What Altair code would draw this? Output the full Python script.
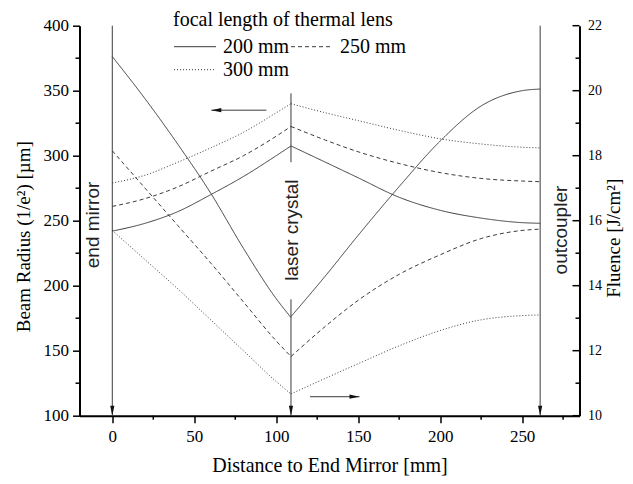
import altair as alt
import pandas as pd

# ---------------- data ----------------
series = ["200 mm", "250 mm", "300 mm"]

# positions along the resonator (mm)
x_left = [0, 20, 40, 60, 80, 100, 109]
x_right = [109, 130, 150, 175, 200, 225, 250, 261]

# beam radius (1/e^2) in micrometres, left axis
beam_200_left = [242, 248, 257, 270, 284, 300, 307.5]
beam_250_left = [261, 267, 276, 288, 300, 315, 322.5]
beam_300_left = [279, 285, 295, 306, 318, 333, 340]
beam_200_right = [307.5, 295, 283, 268, 258, 252, 248.5, 248]
beam_250_right = [322.5, 312, 303, 294, 287, 282.5, 280.5, 280]
beam_300_right = [340, 333, 327, 319.5, 313, 309, 306.5, 306]

# fluence in J/cm^2, right axis
flu_200_left = [21.05, 19.75, 18.35, 16.85, 15.15, 13.6, 13.02]
flu_250_left = [18.15, 17.0, 15.85, 14.7, 13.5, 12.3, 11.82]
flu_300_left = [15.7, 14.8, 13.9, 12.95, 12.0, 11.05, 10.67]
flu_200_right = [13.05, 14.3, 15.55, 17.05, 18.45, 19.53, 20.0, 20.05]
flu_250_right = [11.82, 12.75, 13.55, 14.35, 14.95, 15.45, 15.7, 15.74]
flu_300_right = [10.67, 11.15, 11.6, 12.15, 12.62, 12.95, 13.08, 13.1]

# optical elements (vertical markers): x, top, bottom (beam-radius units)
elem_x = [0, 109, 109, 261]
elem_top = [400, 348, 189.5, 400]
elem_bot = [100, 295, 100, 100]
arrow_tip_x = [0, 109, 261]

elem_labels = ["end mirror", "laser crystal", "outcoupler"]
elem_label_x = [-12, 109.8, 274]
elem_label_y = [246.7, 242.8, 242.8]

# direction arrows: (x start, x end, y in beam units)
arr_x1 = [94, 120.6]
arr_x2 = [60.4, 150.8]
arr_y = [335, 114.6]

# axis ticks
x_major = [0, 50, 100, 150, 200, 250]
x_minor = [25, 75, 125, 175, 225, 275]
yb_major = [100, 150, 200, 250, 300, 350, 400]
yb_minor = [125, 175, 225, 275, 325, 375]
yf_major = [10, 12, 14, 16, 18, 20, 22]
yf_minor = [11, 13, 15, 17, 19, 21]

# ---------------- tables ----------------
rows = []
for s, bl, br, fl, fr in zip(
    series,
    [beam_200_left, beam_250_left, beam_300_left],
    [beam_200_right, beam_250_right, beam_300_right],
    [flu_200_left, flu_250_left, flu_300_left],
    [flu_200_right, flu_250_right, flu_300_right],
):
    for x, v in zip(x_left, bl):
        rows.append(dict(x=x, v=v, series=s, seg="L", q="beam"))
    for x, v in zip(x_right, br):
        rows.append(dict(x=x, v=v, series=s, seg="R", q="beam"))
    for x, v in zip(x_left, fl):
        rows.append(dict(x=x, v=v, series=s, seg="L", q="flu"))
    for x, v in zip(x_right, fr):
        rows.append(dict(x=x, v=v, series=s, seg="R", q="flu"))
df = pd.DataFrame(rows)
beam_df = df[df.q == "beam"]
flu_df = df[df.q == "flu"]

elem_df = pd.DataFrame(dict(x=elem_x, v=elem_top, v2=elem_bot))
tip_df = pd.DataFrame(dict(x=arrow_tip_x, v=[100] * len(arrow_tip_x)))
lab_df = pd.DataFrame(dict(x=elem_label_x, v=elem_label_y, t=elem_labels))
arr_df = pd.DataFrame(dict(x=arr_x1, x2=arr_x2, v=arr_y))
arr_r_df = pd.DataFrame(dict(x=[arr_x2[1]], v=[arr_y[1]]))
arr_l_df = pd.DataFrame(dict(x=[arr_x2[0]], v=[arr_y[0]]))
xminor_df = pd.DataFrame(dict(x=x_minor))
ybminor_df = pd.DataFrame(dict(v=yb_minor))
yfmajor_df = pd.DataFrame(dict(v=yf_major))
yfminor_df = pd.DataFrame(dict(v=yf_minor))

# ---------------- scales & axes ----------------
SERIF = "Liberation Serif"
SANS = "Liberation Sans"
LINE = "#3a3a3a"
W, H = 500, 390

x_scale = alt.Scale(domain=[-20, 285], nice=False, zero=False)
yb_scale = alt.Scale(domain=[100, 400], nice=False, zero=False)
yf_scale = alt.Scale(domain=[10, 22], nice=False, zero=False)
dash_scale = alt.Scale(domain=series, range=[[1, 0], [4, 3], [1, 2]])

x_axis = alt.Axis(
    values=x_major, format="d", title="Distance to End Mirror [mm]",
    tickSize=7, labelPadding=6, labelFontSize=17,
    titleY=55.5, titleBaseline="alphabetic", titleFontSize=20,
)
yb_axis = alt.Axis(
    values=yb_major, format="d", title="Beam Radius (1/e²) [µm]",
    tickSize=7, labelPadding=4, labelFontSize=17,
    titleX=-50, titleY=210.5, titleAngle=270, titleAlign="center",
    titleBaseline="alphabetic", titleFontSize=19,
)
yf_axis = alt.Axis(
    orient="right", values=yf_major, format="d", title="Fluence [J/cm²]",
    ticks=False, tickSize=0, labelPadding=8, labelFontSize=14,
    titleX=40.5, titleY=212, titleAngle=270, titleAlign="center",
    titleBaseline="alphabetic", titleFontSize=19,
)

X = lambda f="x": alt.X(f"{f}:Q", scale=x_scale, axis=x_axis)
YB = lambda f="v": alt.Y(f"{f}:Q", scale=yb_scale, axis=yb_axis)
YF = lambda f="v": alt.Y(f"{f}:Q", scale=yf_scale, axis=yf_axis)

# legend symbol: a 42px long line drawn from a 14px nominal symbol box
legend = alt.Legend(
    title="focal length of thermal lens", orient="none", legendX=93.5, legendY=-16,
    columns=2, direction="horizontal", symbolType="M-3,0L3,0", symbolSize=196,
    symbolOffset=12, symbolStrokeWidth=1, symbolStrokeColor=LINE,
    symbolFillColor="transparent", labelFont=SERIF, labelFontSize=20,
    titleFont=SERIF, titleFontSize=20, titleFontWeight="normal", titleLimit=600,
    labelLimit=300, labelOffset=18, columnPadding=-9, rowPadding=3, titlePadding=7,
    padding=0,
)

# ---------------- beam (left axis) group ----------------
beam_lines = alt.Chart(beam_df).mark_line(color=LINE, strokeWidth=1, interpolate="monotone").encode(
    x=X(), y=YB(),
    strokeDash=alt.StrokeDash("series:N", scale=dash_scale, legend=legend),
    detail="seg:N",
)
elem_rules = alt.Chart(elem_df).mark_rule(color=LINE, strokeWidth=1).encode(
    x=X(), y=YB(), y2="v2:Q"
)
tips = alt.Chart(tip_df).mark_point(
    shape="M-0.42,-1L0.42,-1L0,1Z", filled=True, color="#111", size=100, opacity=1, yOffset=-5
).encode(x=X(), y=YB())
arrows = alt.Chart(arr_df).mark_rule(color=LINE, strokeWidth=1).encode(
    x=X(), x2="x2:Q", y=YB()
)
head_r = alt.Chart(arr_r_df).mark_point(
    shape="M-1,-0.42L-1,0.42L1,0Z", filled=True, color="#111", size=100, opacity=1, xOffset=-5
).encode(x=X(), y=YB())
head_l = alt.Chart(arr_l_df).mark_point(
    shape="M1,-0.42L1,0.42L-1,0Z", filled=True, color="#111", size=100, opacity=1, xOffset=5
).encode(x=X(), y=YB())
labels = alt.Chart(lab_df).mark_text(
    angle=270, font=SANS, fontSize=19, color="#222", align="center", baseline="middle"
).encode(x=X(), y=YB(), text="t:N")
x_minor_ticks = alt.Chart(xminor_df).mark_rule(color="black", strokeWidth=1.5).encode(
    x=X(), y=alt.value(H), y2=alt.value(H + 4)
)
yb_minor_ticks = alt.Chart(ybminor_df).mark_rule(color="black", strokeWidth=1.5).encode(
    y=YB(), x=alt.value(-4), x2=alt.value(0)
)
beam_group = alt.layer(
    beam_lines, elem_rules, tips, arrows, head_r, head_l, labels, x_minor_ticks, yb_minor_ticks
)

# ---------------- fluence (right axis) group ----------------
flu_lines = alt.Chart(flu_df).mark_line(color=LINE, strokeWidth=1, interpolate="monotone").encode(
    x=X(), y=YF(),
    strokeDash=alt.StrokeDash("series:N", scale=dash_scale, legend=legend),
    detail="seg:N",
)
yf_major_ticks = alt.Chart(yfmajor_df).mark_rule(color="black", strokeWidth=1.5).encode(
    y=YF(), x=alt.value(W - 7), x2=alt.value(W)
)
yf_minor_ticks = alt.Chart(yfminor_df).mark_rule(color="black", strokeWidth=1.5).encode(
    y=YF(), x=alt.value(W - 4), x2=alt.value(W)
)
flu_group = alt.layer(flu_lines, yf_major_ticks, yf_minor_ticks)

chart = (
    alt.layer(beam_group, flu_group)
    .resolve_scale(y="independent")
    .properties(
        width=W, height=H,
        autosize=alt.AutoSizeParams(type="none"),
        padding={"left": 71.5, "top": 17.7, "right": 45.5, "bottom": 60},
    )
    .configure_view(stroke=None)
    .configure_axis(
        domainColor="black", domainWidth=2, tickColor="black", tickWidth=1.5,
        grid=False, labelFont=SERIF, titleFont=SERIF, labelColor="black",
        titleColor="black", titleFontWeight="normal",
    )
)

chart.save("out.html", embed_options={"renderer": "svg", "actions": False})
